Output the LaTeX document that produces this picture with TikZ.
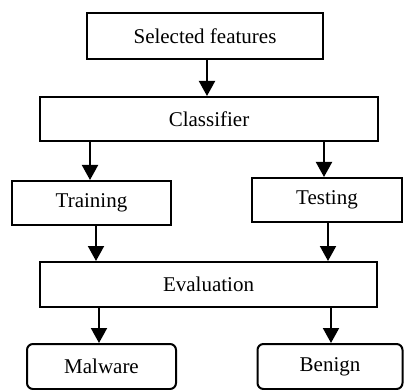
\documentclass[tikz,border=0pt]{standalone}
\usepackage{fontspec}
\setmainfont{Liberation Serif}
\usepackage{tikz}
\usetikzlibrary{positioning,arrows.meta,shapes}

\begin{document}
\begin{tikzpicture}[x=1pt,y=-1pt,
    box/.style={draw, line width=2pt, inner sep=0pt, font=\fontsize{21}{25}\selectfont},
    roundbox/.style={box, rounded corners=6pt},
    arr/.style={line width=2pt, -{Triangle[width=16pt,length=15pt]}}]
            \useasboundingbox (0,0) rectangle (404,390);
            \node[box, minimum width=236pt, minimum height=46pt] (sel) at (205,36) {Selected features};
            \node[box, minimum width=338pt, minimum height=44pt] (cls) at (209,119) {Classifier};
            \node[box, minimum width=159pt, minimum height=44pt] (trn) at (91.5,203) {Training};
            \node[box, minimum width=150pt, minimum height=44pt] (tst) at (327,200) {Testing};
            \node[box, minimum width=337pt, minimum height=45pt] (eval) at (208.5,284.5) {Evaluation};
            \node[roundbox, minimum width=149pt, minimum height=45pt] (mal) at (101.5,366.5) {Malware};
            \node[roundbox, minimum width=145pt, minimum height=45pt] (ben) at (330,366.5) {Benign};
            \draw[arr] ([xshift=2pt]sel.south) -- ([xshift=2pt]sel.south |- cls.north);
            \draw[arr] ([xshift=-1.5pt]trn.north |- cls.south) -- ([xshift=-1.5pt]trn.north);
            \draw[arr] ([xshift=-3pt]tst.north |- cls.south) -- ([xshift=-3pt]tst.north);
            \draw[arr] ([xshift=4.5pt]trn.south) -- ([xshift=4.5pt]trn.south |- eval.north);
            \draw[arr] ([xshift=1pt]tst.south) -- ([xshift=1pt]tst.south |- eval.north);
            \draw[arr] ([xshift=-2.5pt]mal.north |- eval.south) -- ([xshift=-2.5pt]mal.north);
            \draw[arr] ([xshift=1pt]ben.north |- eval.south) -- ([xshift=1pt]ben.north);
        \end{tikzpicture}
\end{document}
